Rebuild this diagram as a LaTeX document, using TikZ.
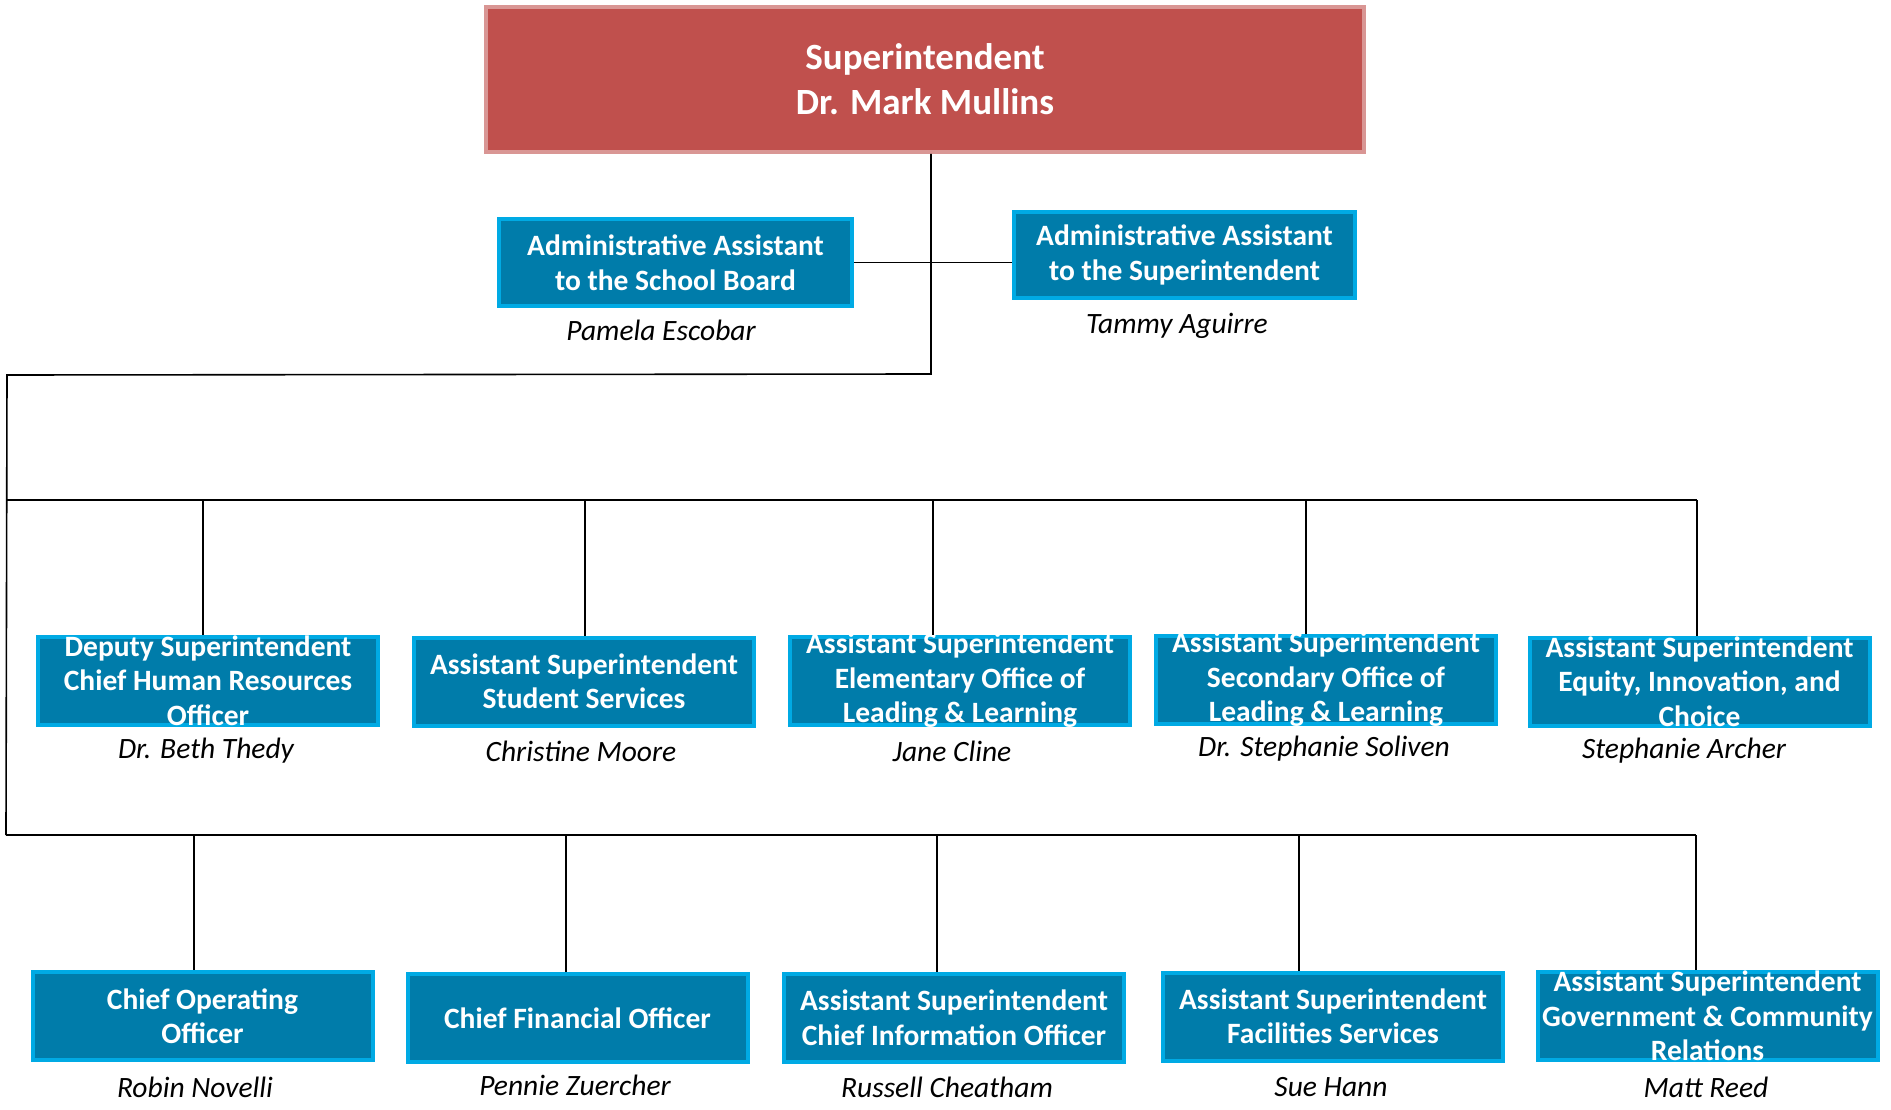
\documentclass[tikz,border=0pt]{standalone}
\usepackage{fontspec}
\setmainfont{Carlito}
\usepackage{tikz}
\usetikzlibrary{calc, positioning}
\definecolor{boxblue}{RGB}{0,124,170}
\definecolor{boxedge}{RGB}{0,170,228}
\definecolor{topred}{RGB}{192,80,77}
\definecolor{topedge}{RGB}{217,150,148}
\tikzstyle{post}=[draw=boxedge, fill=boxblue, line width=4pt, shape=rectangle, inner sep=0pt, minimum width=340pt, minimum height=88pt]
\tikzstyle{head}=[draw=topedge, fill=topred, line width=4pt, shape=rectangle, inner sep=0pt, minimum width=878pt, minimum height=145pt]
\tikzstyle{title}=[text=white, align=center, inner sep=0pt, font=\bfseries\fontsize{29.5}{34.5}\selectfont]
\tikzstyle{who}=[inner sep=0pt, font=\itshape\fontsize{29.5}{32}\selectfont]
\tikzstyle{conn}=[line width=1.6pt, black]

\begin{document}
\begin{tikzpicture}[x=1pt, y=-1pt]
\useasboundingbox (0,0) rectangle (1891,1110);

\node[head] (S) at (925,79.5) {};
\node[title, font=\bfseries\fontsize{37}{45}\selectfont] (St) at (S.center) {Superintendent\\Dr. Mark Mullins};

\node[post, minimum width=353pt, minimum height=87pt] (A1) at (675.5,262.5) {};
\node[title] (A1t) at (A1.center) {Administrative Assistant\\to the School Board};
\node[who] (A1n) at (661,330) {Pamela Escobar};
\node[post, minimum width=341pt, minimum height=86pt] (A2) at (1184.5,255) {};
\node[title] (A2t) at (A2.center) {Administrative Assistant\\to the Superintendent};
\node[who] (A2n) at (1177,326) {Tammy Aguirre};

% first row
\node[post] (B1) at (208,680.5) {};
\node[title] (B1t) at (B1.center) {Deputy Superintendent\\Chief Human Resources\\Officer};
\node[who] (B1n) at (206,751) {Dr. Beth Thedy};
\node[post] (B2) at (584,681.5) {};
\node[title] (B2t) at (B2.center) {Assistant Superintendent\\Student Services};
\node[who] (B2n) at (581,751) {Christine Moore};
\node[post] (B3) at (960,680.5) {};
\node[title] (B3t) at (B3.center) {Assistant Superintendent\\Elementary Office of\\Leading \& Learning};
\node[who] (B3n) at (952,751) {Jane Cline};
\node[post] (B4) at (1326,679.5) {};
\node[title] (B4t) at (B4.center) {Assistant Superintendent\\Secondary Office of\\Leading \& Learning};
\node[who] (B4n) at (1324,749) {Dr. Stephanie Soliven};
\node[post] (B5) at (1699.5,681.5) {};
\node[title] (B5t) at (B5.center) {Assistant Superintendent\\Equity, Innovation, and\\Choice};
\node[who] (B5n) at (1684,751) {Stephanie Archer};

% second row
\node[post] (C1) at (202.5,1016) {};
\node[title] (C1t) at (C1.center) {Chief Operating\\Officer};
\node[who] (C1n) at (195,1087) {Robin Novelli};
\node[post] (C2) at (577.5,1018) {};
\node[title] (C2t) at (C2.center) {Chief Financial Officer};
\node[who] (C2n) at (575,1085) {Pennie Zuercher};
\node[post] (C3) at (954,1018) {};
\node[title] (C3t) at (C3.center) {Assistant Superintendent\\Chief Information Officer};
\node[who] (C3n) at (947,1087) {Russell Cheatham};
\node[post] (C4) at (1333,1016.5) {};
\node[title] (C4t) at (C4.center) {Assistant Superintendent\\Facilities Services};
\node[who] (C4n) at (1331,1087) {Sue Hann};
\node[post] (C5) at (1707.5,1016) {};
\node[title] (C5t) at (C5.center) {Assistant Superintendent\\Government \& Community\\Relations};
\node[who] (C5n) at (1706,1087) {Matt Reed};

% connectors
\coordinate (t1) at (931,374);
\coordinate (t2) at (7,375);
\coordinate (t3) at (6,835);
\draw[conn] (S.south -| t1) -- (t1) -- (t2) -- (t3);
\draw[conn] (A1.east) -- (A1.east -| A2.west);

\coordinate (d11) at (203,500);
\coordinate (d12) at (585,500);
\coordinate (d13) at (933,500);
\coordinate (d14) at (1306,500);
\coordinate (d15) at (1697,500);
\draw[conn] (t2 |- d11) -- (d15);
\draw[conn] (d11) -- (d11 |- B1.north);
\draw[conn] (d12) -- (d12 |- B2.north);
\draw[conn] (d13) -- (d13 |- B3.north);
\draw[conn] (d14) -- (d14 |- B4.north);
\draw[conn] (d15) -- (d15 |- B5.north);

\coordinate (d21) at (194,835);
\coordinate (d22) at (566,835);
\coordinate (d23) at (937,835);
\coordinate (d24) at (1299,835);
\coordinate (d25) at (1696,835);
\draw[conn] (t3) -- (d25);
\draw[conn] (d21) -- (d21 |- C1.north);
\draw[conn] (d22) -- (d22 |- C2.north);
\draw[conn] (d23) -- (d23 |- C3.north);
\draw[conn] (d24) -- (d24 |- C4.north);
\draw[conn] (d25) -- (d25 |- C5.north);
\end{tikzpicture}
\end{document}
